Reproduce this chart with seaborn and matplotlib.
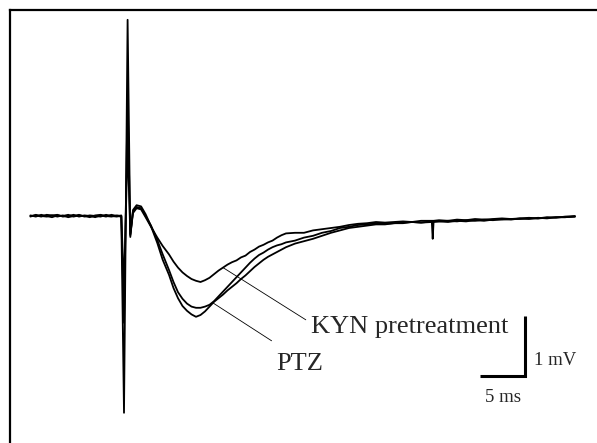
import matplotlib
matplotlib.use("Agg")
import matplotlib.pyplot as plt
import seaborn as sns
import pandas as pd
from matplotlib.lines import Line2D

# ---------------- data (time in ms, potential in mV) ----------------
time_ms = (
    [-10.4, -9.8, -9.2, -8.6, -8.0, -7.4, -6.8, -6.2, -5.6, -5.0, -4.4, -3.8, -3.2, -2.6, -2.0, -1.4, -0.8, -0.3]
    + [0.0, 0.4, 0.7]
    + [1.0, 1.4, 1.9, 2.4, 3.0, 3.7, 4.3, 5.0]
    + [5.5, 6.0, 6.5, 7.0, 7.5, 8.0, 8.5, 9.0, 9.5, 10.0, 10.5, 11.0, 11.5, 12.0]
    + [12.5, 13.0, 13.5, 14.0, 14.5, 15.0, 15.5, 16.0, 16.5, 17.0, 17.5, 18.0]
    + [19, 20, 21, 22, 23, 24, 25, 26, 27, 28, 29, 30, 31, 32, 33, 34.2]
    + [34.3, 34.4, 35, 36, 37, 38, 39, 40, 41, 42, 43, 44, 45, 46, 47, 48, 49, 50.1]
)

kyn_mv = (
    [0.01, -0.01, 0.02, 0.0, -0.02, 0.01, 0.0, 0.02, -0.01, 0.01, 0.0, -0.02, 0.01, 0.02, 0.0, -0.01, 0.01, 0.0]
    + [-1.78, 1.97, -0.32]
    + [0.05, 0.13, 0.11, -0.02, -0.18, -0.36, -0.50, -0.64]
    + [-0.76, -0.86, -0.94, -1.00, -1.05, -1.08, -1.10, -1.07, -1.03, -0.97, -0.91, -0.86, -0.81, -0.77]
    + [-0.74, -0.69, -0.66, -0.60, -0.56, -0.51, -0.48, -0.44, -0.41, -0.36, -0.32, -0.29]
    + [-0.28, -0.28, -0.24, -0.22, -0.20, -0.18, -0.15, -0.13, -0.12, -0.10, -0.11, -0.10, -0.09, -0.10, -0.08, -0.08]
    + [-0.08, -0.08, -0.07, -0.08, -0.06, -0.07, -0.05, -0.06, -0.05, -0.04, -0.05, -0.04, -0.03, -0.04, -0.02, -0.03, -0.01, 0.0]
)

ptz_a_mv = (
    [0.0, 0.01, -0.01, 0.02, 0.01, -0.01, 0.01, -0.02, 0.0, 0.02, -0.01, 0.01, 0.0, -0.01, 0.02, 0.0, -0.01, 0.01]
    + [-1.20, 1.20, -0.30]
    + [0.08, 0.15, 0.13, 0.0, -0.16, -0.40, -0.64, -0.90]
    + [-1.10, -1.27, -1.38, -1.46, -1.51, -1.53, -1.53, -1.51, -1.48, -1.42, -1.34, -1.26, -1.18, -1.10]
    + [-1.02, -0.94, -0.86, -0.78, -0.71, -0.65, -0.61, -0.56, -0.52, -0.49, -0.47, -0.44]
    + [-0.41, -0.36, -0.33, -0.28, -0.25, -0.20, -0.18, -0.15, -0.14, -0.12, -0.13, -0.12, -0.11, -0.10, -0.11, -0.09]
    + [-0.38, -0.09, -0.09, -0.08, -0.09, -0.07, -0.08, -0.06, -0.07, -0.05, -0.06, -0.04, -0.05, -0.03, -0.04, -0.02, -0.02, -0.01]
)

ptz_b_mv = (
    [-0.01, 0.02, 0.0, -0.01, 0.01, 0.02, -0.01, 0.0, 0.02, -0.01, 0.01, 0.0, -0.02, 0.01, -0.01, 0.02, 0.0, -0.01]
    + [-3.28, 3.27, -0.35]
    + [0.10, 0.18, 0.16, 0.03, -0.17, -0.45, -0.73, -0.98]
    + [-1.20, -1.37, -1.50, -1.58, -1.64, -1.68, -1.65, -1.59, -1.51, -1.43, -1.37, -1.31, -1.24, -1.18]
    + [-1.12, -1.05, -0.99, -0.92, -0.85, -0.79, -0.73, -0.68, -0.64, -0.60, -0.56, -0.52]
    + [-0.46, -0.42, -0.38, -0.33, -0.28, -0.24, -0.20, -0.18, -0.16, -0.14, -0.14, -0.12, -0.12, -0.10, -0.11, -0.10]
    + [-0.10, -0.10, -0.09, -0.10, -0.08, -0.09, -0.07, -0.08, -0.06, -0.06, -0.05, -0.05, -0.04, -0.04, -0.03, -0.02, -0.02, -0.01]
)

trace_names = ["KYN pretreatment", "PTZ a", "PTZ b"]
label_kyn = "KYN pretreatment"
label_ptz = "PTZ"
scale_x_label = "5 ms"
scale_y_label = "1 mV"
scale_ms = 5
scale_mv = 1

# ---------------- figure ----------------
sns.set_theme(style="white")
plt.rcParams["font.family"] = ["Liberation Serif", "DejaVu Serif"]

frames = []
for name, vals in zip(trace_names, [kyn_mv, ptz_a_mv, ptz_b_mv]):
    frames.append(pd.DataFrame({"t": time_ms, "v": vals, "trace": name}))
df = pd.concat(frames, ignore_index=True)

fig = plt.figure(figsize=(5.97, 4.43), dpi=100)
ax = fig.add_axes([0, 0, 1, 1])
sns.lineplot(data=df, x="t", y="v", units="trace", estimator=None, sort=False,
             color="black", linewidth=1.3, ax=ax, legend=False)

# pixel mapping: x_px = 124 + 9*t ; y_px = 216 - 60*v
ax.set_xlim(-124 / 9, (597 - 124) / 9)
ax.set_ylim((216 - 443) / 60, 216 / 60)
ax.set_axis_off()

# annotation leader lines
ax.plot([11.0, 20.2], [-0.86, -1.73], color="black", linewidth=0.6)
ax.plot([9.9, 16.4], [-1.45, -2.08], color="black", linewidth=0.6)
ax.text(20.8, -1.95, label_kyn, fontsize=19, ha="left", va="baseline")
ax.text(16.9, -2.56, label_ptz, fontsize=19, ha="left", va="baseline")

# scale bar
cx, cy = 44.55, -2.667
ax.plot([cx - scale_ms, cx, cx], [cy, cy, cy + scale_mv], color="black",
        linewidth=2.2, solid_joinstyle="miter", solid_capstyle="butt")
ax.text(cx + 0.95, cy + 0.5 * scale_mv - 0.32, scale_y_label, fontsize=13.5,
        ha="left", va="baseline")
ax.text(cx - 0.5 * scale_ms + 0.1, cy - 0.43, scale_x_label, fontsize=13.5,
        ha="center", va="baseline")

# frame border (top and left visible; the rest runs off the image)
W, H = 597, 443
fig.add_artist(Line2D([10 / W, 10 / W], [0, 1 - 9.5 / H], transform=fig.transFigure,
                      color="black", linewidth=1.6, solid_capstyle="projecting"))
fig.add_artist(Line2D([10 / W, 1], [1 - 9.5 / H, 1 - 9.5 / H], transform=fig.transFigure,
                      color="black", linewidth=1.6, solid_capstyle="projecting"))

fig.savefig("out.png", dpi=100)
